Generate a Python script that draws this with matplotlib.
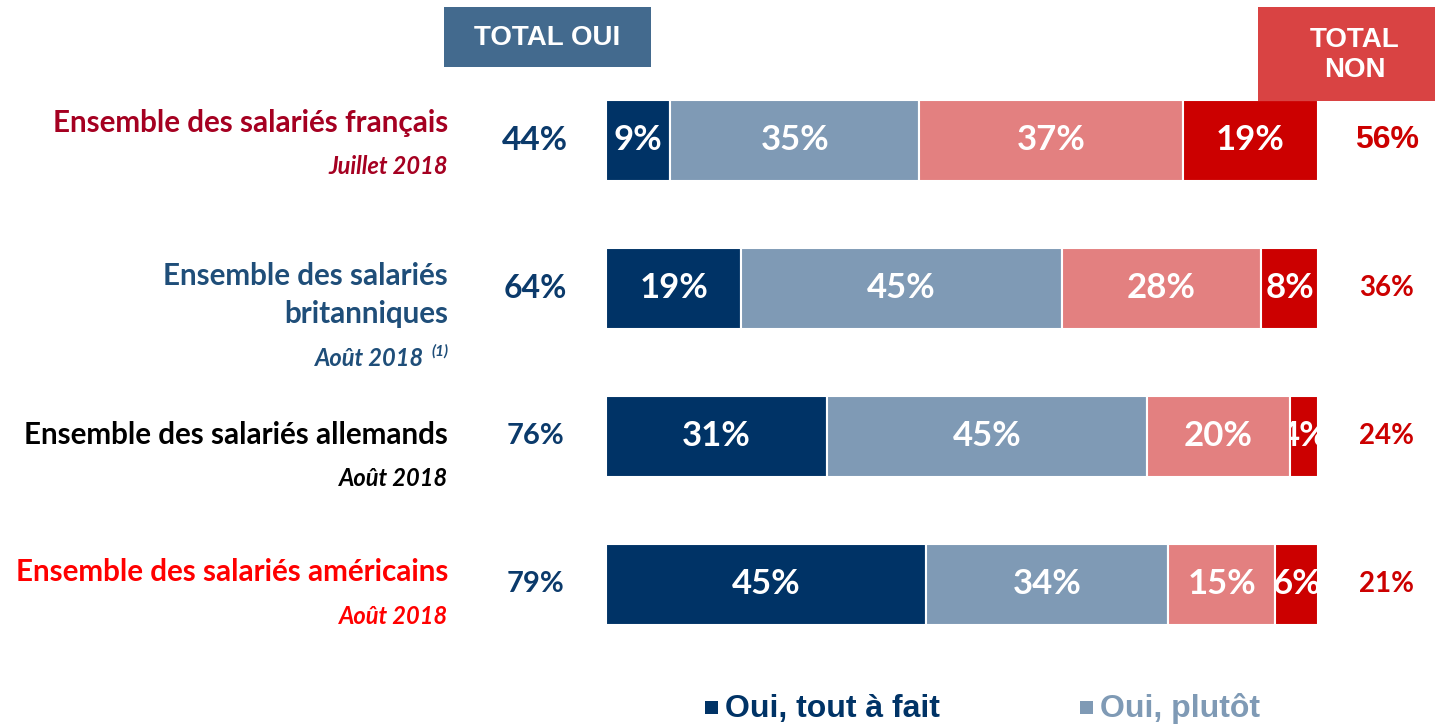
import numpy as np
import matplotlib
matplotlib.use('Agg')
import matplotlib.pyplot as plt
from matplotlib.patches import Rectangle

# data
groups = ['Ensemble des salariés français', 'Ensemble des salariés\nbritanniques',
          'Ensemble des salariés allemands', 'Ensemble des salariés américains']
dates = ['Juillet 2018', 'Août 2018', 'Août 2018', 'Août 2018']
oui_tout = [9, 19, 31, 45]
oui_plutot = [35, 45, 45, 34]
non_plutot = [37, 28, 20, 15]
non_pas = [19, 8, 4, 6]
total_oui = [44, 64, 76, 79]
total_non = [56, 36, 24, 21]
legend_labels = ['Oui, tout à fait', 'Oui, plutôt']

seg_colors = ['#003366', '#7F9AB5', '#E38080', '#CC0000']
label_colors = ['#A50021', '#1F4E79', '#000000', '#FF0000']
NAVY = '#0B3A6B'
RED = '#CC0000'

W, H = 1435, 725
fig = plt.figure(figsize=(W / 100, H / 100), dpi=100)

# bars axes: x 606..1318 px, rows centred at 140.5 + 148*i px
x0, x1 = 606, 1318
ppu = (x1 - x0) / 100.0
row_px = 148.0
top_px = 140.5
ax = fig.add_axes([x0 / W, 0, (x1 - x0) / W, 1])
ax.set_xlim(0, 100)
ax.set_ylim((H - top_px) / row_px, -top_px / row_px)
ax.axis('off')

def px_x(px):
    return (px - x0) / ppu

def px_dy(dpx):
    return dpx / row_px

y = np.arange(len(groups))
bar_h = 81 / row_px
series = [oui_tout, oui_plutot, non_plutot, non_pas]
left = np.zeros(len(groups))
for vals, col in zip(series, seg_colors):
    bars = ax.barh(y, vals, left=left, height=bar_h, color=col,
                   edgecolor='white', linewidth=1.5)
    for b, v, l, yy in zip(bars, vals, left, y):
        t = ax.text(l + v / 2, yy, f'{v}%', ha='center', va='center',
                    color='white', fontsize=25, fontweight='bold',
                    family='Lato', clip_on=True)
        t.set_clip_path(b)
    left = left + np.array(vals)

# row labels
main_off = [[-17.5], [-12.5, 25.5], [-1.5], [-12.5]]
date_off = [25.5, 69.5, 41.5, 31.5]
lab_x = px_x(448)
for i, g in enumerate(groups):
    lines = g.split('\n')
    for line, off in zip(lines, main_off[i]):
        ax.text(lab_x, i + px_dy(off), line, ha='right', va='center',
                color=label_colors[i], fontsize=21.3, fontweight='bold',
                family='Lato', clip_on=False)
    if i == 1:
        ax.text(px_x(424), i + px_dy(date_off[i]), dates[i], ha='right',
                va='center', color=label_colors[i], fontsize=17,
                fontweight='bold', fontstyle='italic', family='Lato',
                clip_on=False)
        ax.text(lab_x, i + px_dy(date_off[i] - 7), '(1)', ha='right',
                va='center', color=label_colors[i], fontsize=11,
                fontweight='bold', fontstyle='italic', family='Lato',
                clip_on=False)
    else:
        ax.text(lab_x, i + px_dy(date_off[i]), dates[i], ha='right',
                va='center', color=label_colors[i], fontsize=17,
                fontweight='bold', fontstyle='italic', family='Lato',
                clip_on=False)

# totals
oui_sizes = [24, 23, 21, 21]
non_sizes = [23, 20, 20, 20]
for i in range(len(groups)):
    ax.text(px_x(535), i, f'{total_oui[i]}%', ha='center', va='center',
            color=NAVY, fontsize=oui_sizes[i], fontweight='bold',
            family='Lato', clip_on=False)
    ax.text(px_x(1387), i, f'{total_non[i]}%', ha='center', va='center',
            color=RED, fontsize=non_sizes[i], fontweight='bold',
            family='Liberation Sans' if i == 0 else 'Lato', clip_on=False)

# header boxes
def fig_box(px_l, px_t, px_w, px_h, color):
    fig.patches.append(Rectangle((px_l / W, 1 - (px_t + px_h) / H), px_w / W,
                                 px_h / H, transform=fig.transFigure,
                                 facecolor=color, edgecolor='none', zorder=0))

fig_box(444, 7, 207, 60, '#436A8E')
fig.text(547 / W, 1 - 38 / H, 'TOTAL OUI', ha='center', va='center',
         color='white', fontsize=20, fontweight='bold', family='Liberation Sans')
fig_box(1258, 7, 177, 94, '#D94343')
fig.text(1355 / W, 1 - 55 / H, 'TOTAL\nNON', ha='center', va='center',
         color='white', fontsize=20, fontweight='bold', family='Liberation Sans',
         linespacing=1.2)

# legend
leg_x = [705, 1080]
leg_cols = [seg_colors[0], seg_colors[1]]
txt_cols = ['#003366', '#7F9AB5']
for lx, lab, sc, tc in zip(leg_x, legend_labels, leg_cols, txt_cols):
    fig.patches.append(Rectangle((lx / W, 1 - 714 / H), 13 / W, 13 / H,
                                 transform=fig.transFigure, facecolor=sc,
                                 edgecolor='none'))
    fig.text((lx + 20) / W, 1 - 709 / H, lab, ha='left', va='center',
             color=tc, fontsize=23, fontweight='bold', family='Liberation Sans')

fig.savefig('out.png', dpi=100)
